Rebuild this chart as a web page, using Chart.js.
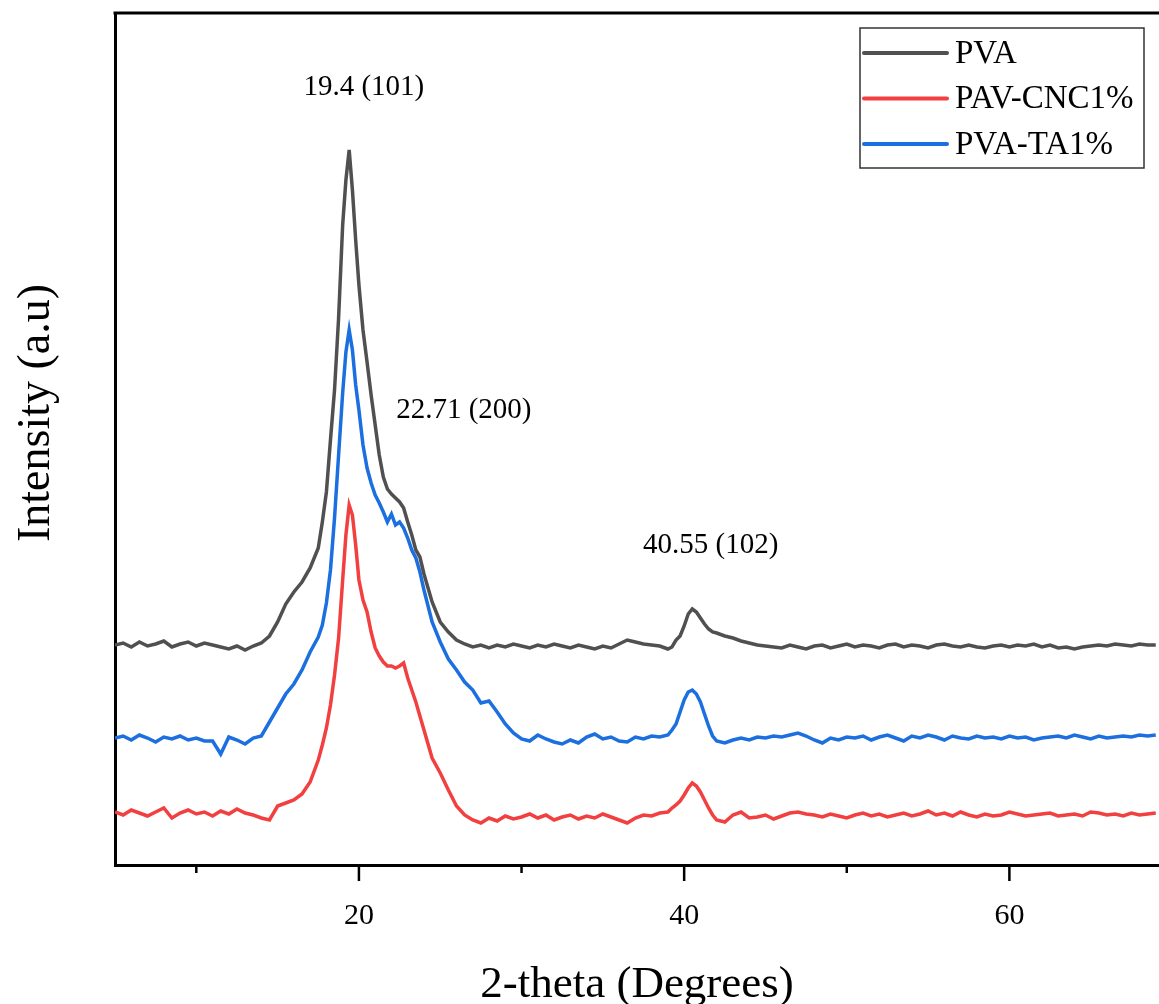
<!DOCTYPE html>
<html>
<head>
<meta charset="utf-8">
<script src="https://cdn.jsdelivr.net/npm/chart.js@4.4.1/dist/chart.umd.min.js"></script>
<style>
  html, body { margin: 0; padding: 0; background: #fff; }
  #wrap { width: 1159px; height: 1004px; position: relative; }
</style>
</head>
<body>
<div id="wrap"><canvas id="xrd"></canvas></div>
<script>
// 2-theta grid (degrees), denser around the peaks
const twoTheta = [
  5, 5.5, 6, 6.5, 7, 7.5, 8, 8.5, 9, 9.5, 10, 10.5, 11, 11.5, 12, 12.5, 13, 13.5, 14, 14.5, 15, 15.5, 16, 16.5, 17, 17.5,
  17.75, 18, 18.25, 18.5, 18.75, 19, 19.2, 19.4, 19.6, 19.8, 20, 20.25, 20.5, 20.75, 21, 21.25, 21.5, 21.75, 22, 22.25, 22.5, 22.75, 23, 23.25, 23.5, 23.75, 24,
  24.5, 25, 25.5, 26, 26.5, 27, 27.5, 28, 28.5, 29, 29.5, 30, 30.5, 31, 31.5, 32, 32.5, 33, 33.5, 34, 34.5, 35, 35.5, 36, 36.5, 37, 37.5, 38, 38.5,
  39, 39.25, 39.5, 39.75, 40, 40.25, 40.5, 40.75, 41, 41.25, 41.5, 41.75, 42,
  42.5, 43, 43.5, 44, 44.5, 45, 45.5, 46, 46.5, 47, 47.5, 48, 48.5, 49, 49.5, 50, 50.5, 51, 51.5, 52, 52.5, 53, 53.5, 54, 54.5, 55, 55.5, 56, 56.5, 57, 57.5, 58, 58.5, 59, 59.5, 60, 60.5, 61, 61.5, 62, 62.5, 63, 63.5, 64, 64.5, 65, 65.5, 66, 66.5, 67, 67.5, 68, 68.5, 69
];

// intensities (a.u., stacked offsets as in the figure)
const pva = [
  220, 222, 218, 223, 219, 221, 224, 218, 221, 223, 219, 222, 220, 218, 216, 219, 215, 219, 222, 229, 243, 261, 273, 283, 297, 317,
  343, 373, 425, 475, 547, 640, 685, 715, 675, 625, 580, 535, 503, 470, 440, 410, 388, 376, 371, 367, 363, 357, 343, 330, 315, 308, 291,
  263, 243, 233, 225, 221, 218, 220, 217, 220, 218, 221, 219, 217, 220, 218, 221, 219, 217, 220, 218, 216, 219, 217, 221, 225, 223, 221, 220, 219,
  216, 218, 225, 229, 239, 251, 256, 253, 247, 241, 236, 233, 232,
  229, 227, 224, 222, 220, 219, 218, 217, 220, 218, 216, 219, 220, 217, 219, 221, 218, 220, 219, 217, 220, 221, 218, 220, 219, 217, 220, 221, 219, 218, 220, 218, 217, 219, 220, 218, 220, 219, 221, 218, 220, 217, 218, 216, 218, 219, 220, 219, 221, 220, 219, 221, 220, 220
];

const pvaCnc = [
  53, 50, 55, 52, 49, 53, 57, 47, 52, 55, 51, 53, 49, 54, 51, 56, 52, 50, 47, 45, 59, 62, 65, 71, 83, 105,
  120, 137, 160, 190, 227, 285, 330, 360, 350, 320, 285, 265, 253, 233, 217, 209, 203, 199, 199, 197, 199, 202, 187, 175, 163, 149, 135,
  107, 92, 75, 59, 50, 45, 42, 47, 44, 49, 46, 48, 51, 47, 50, 45, 48, 50, 46, 49, 47, 51, 48, 45, 42, 47, 50, 49, 52,
  53, 57, 60, 64, 70, 77, 82, 79, 73, 65, 57, 50, 45,
  43, 50, 53, 47, 48, 50, 46, 49, 52, 53, 51, 50, 48, 51, 49, 47, 50, 52, 49, 51, 48, 50, 52, 49, 51, 54, 50, 52, 49, 53, 50, 48, 51, 49, 50, 53, 51, 49, 50, 51, 52, 49, 50, 51, 49, 53, 52, 50, 51, 49, 52, 50, 51, 52
];

const pvaTa = [
  127, 129, 125, 130, 127, 123, 128, 126, 129, 125, 127, 124, 124, 111, 128, 125, 121, 127, 129, 143, 157, 171, 181, 195, 213, 228,
  240, 262, 295, 347, 410, 472, 513, 535, 515, 480, 455, 420, 397, 382, 370, 362, 353, 343, 351, 340, 343, 337, 327, 315, 307, 293, 275,
  243, 223, 206, 195, 183, 175, 162, 164, 153, 141, 132, 126, 124, 130, 126, 123, 121, 125, 122, 128, 131, 126, 128, 124, 123, 128, 126, 129, 128,
  130, 135, 141, 153, 165, 173, 175, 171, 163, 151, 139, 129, 124,
  122, 125, 127, 125, 128, 127, 129, 128, 130, 132, 129, 125, 122, 127, 125, 128, 127, 129, 125, 128, 130, 127, 124, 129, 127, 130, 128, 125, 129, 127, 126, 129, 127, 128, 126, 129, 127, 128, 125, 127, 128, 129, 127, 130, 128, 126, 129, 127, 128, 129, 128, 130, 129, 130
];

const seriesNames = ['PVA', 'PAV-CNC1%', 'PVA-TA1%'];
const seriesData = [pva, pvaCnc, pvaTa];
const seriesColors = ['#505050', '#f23f3f', '#1b6fdf'];

const majorTicks = [20, 40, 60];
const minorTicks = [10, 30, 50];

// peak annotations
const peakLabels = ['19.4 (101)', '22.71 (200)', '40.55 (102)'];
const peakX = [20.3, 26.45, 41.63];
const peakY = [778, 455, 320];

const serif = '"Liberation Serif", "Times New Roman", serif';

const decor = {
  id: 'decor',
  afterDraw(chart) {
    const { ctx, chartArea: a, scales: { x, y } } = chart;
    ctx.save();
    ctx.strokeStyle = '#000';

    // top frame line
    ctx.lineWidth = 3;
    ctx.beginPath();
    ctx.moveTo(a.left - 1.5, a.top);
    ctx.lineTo(a.right, a.top);
    ctx.stroke();

    // tick marks (outside)
    ctx.lineWidth = 2.5;
    majorTicks.forEach(v => {
      const px = x.getPixelForValue(v);
      ctx.beginPath(); ctx.moveTo(px, a.bottom); ctx.lineTo(px, a.bottom + 16); ctx.stroke();
    });
    minorTicks.forEach(v => {
      const px = x.getPixelForValue(v);
      ctx.beginPath(); ctx.moveTo(px, a.bottom); ctx.lineTo(px, a.bottom + 8); ctx.stroke();
    });

    // peak labels
    ctx.fillStyle = '#000';
    ctx.font = '29px ' + serif;
    ctx.textAlign = 'center';
    ctx.textBaseline = 'middle';
    peakLabels.forEach((t, i) => {
      ctx.fillText(t, x.getPixelForValue(peakX[i]), y.getPixelForValue(peakY[i]));
    });

    // y axis title
    ctx.save();
    ctx.translate(37, 413);
    ctx.rotate(-Math.PI / 2);
    ctx.font = '46px ' + serif;
    ctx.fillText('Intensity (a.u)', 0, 0);
    ctx.restore();

    // legend box
    const bx = a.right - 299, by = a.top + 15, bw = 284, bh = 140;
    ctx.lineWidth = 1.5;
    ctx.strokeStyle = '#333';
    ctx.strokeRect(bx, by, bw, bh);
    ctx.font = '33px ' + serif;
    ctx.textAlign = 'left';
    chart.data.datasets.forEach((ds, i) => {
      const ly = by + 25 + i * 45.5;
      ctx.strokeStyle = ds.borderColor;
      ctx.lineWidth = 4;
      ctx.lineCap = 'round';
      ctx.beginPath(); ctx.moveTo(bx + 4, ly); ctx.lineTo(bx + 87, ly); ctx.stroke();
      ctx.fillStyle = '#000';
      ctx.fillText(ds.label, bx + 95, ly + 1);
    });
    ctx.restore();
  }
};

new Chart(document.getElementById('xrd'), {
  type: 'line',
  data: {
    labels: twoTheta,
    datasets: seriesNames.map((name, i) => ({
      label: name,
      data: twoTheta.map((t, j) => ({ x: t, y: seriesData[i][j] })),
      borderColor: seriesColors[i],
      borderWidth: 3.5,
      pointRadius: 0,
      tension: 0,
      fill: false
    }))
  },
  options: {
    responsive: true,
    maintainAspectRatio: false,
    animation: false,
    layout: { padding: { top: 13, right: 0, bottom: 0, left: 0 } },
    plugins: {
      legend: { display: false },
      tooltip: { enabled: false }
    },
    scales: {
      x: {
        type: 'linear',
        min: 5,
        max: 69.2,
        afterFit: s => { s.height = 139; },
        afterBuildTicks: s => { s.ticks = majorTicks.concat(minorTicks).sort((p, q) => p - q).map(v => ({ value: v })); },
        grid: { display: false, drawTicks: false },
        border: { display: true, color: '#000', width: 3 },
        ticks: {
          autoSkip: false,
          maxRotation: 0,
          padding: 33,
          color: '#000',
          font: { family: serif, size: 30 },
          callback: v => (majorTicks.includes(v) ? v : '')
        },
        title: {
          display: true,
          text: '2-theta (Degrees)',
          color: '#000',
          font: { family: serif, size: 45, lineHeight: 0.8 },
          padding: { top: 0, bottom: 1 }
        }
      },
      y: {
        min: 0,
        max: 852,
        afterFit: s => { s.width = 115; },
        grid: { display: false, drawTicks: false },
        border: { display: true, color: '#000', width: 3 },
        ticks: { display: false }
      }
    }
  },
  plugins: [decor]
});
</script>
</body>
</html>
